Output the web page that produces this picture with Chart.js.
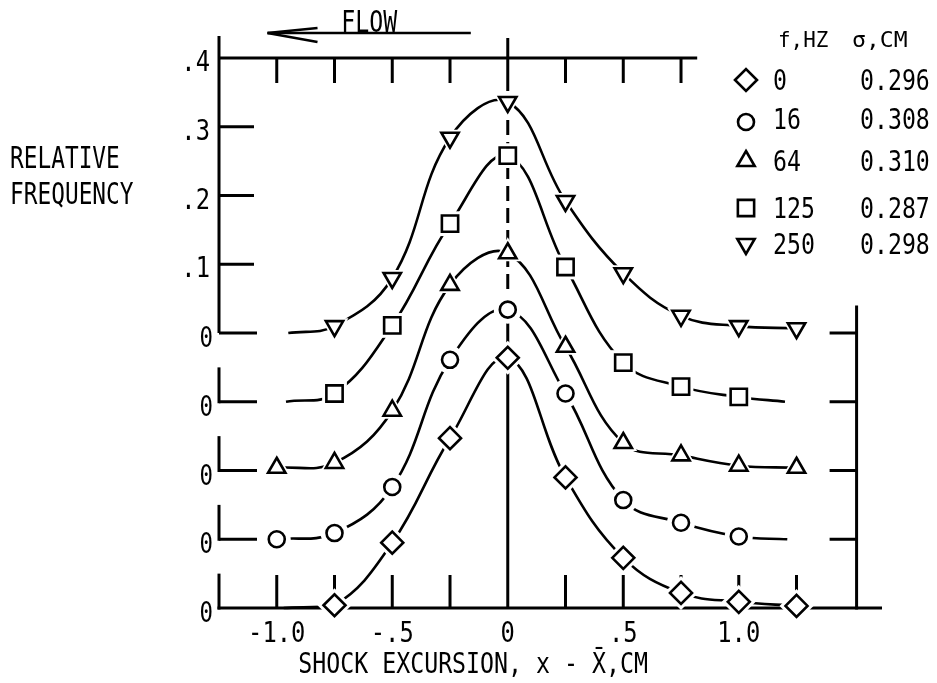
<!DOCTYPE html>
<html>
<head>
<meta charset="utf-8">
<script src="https://cdn.jsdelivr.net/npm/chart.js@4.4.0/dist/chart.umd.min.js"></script>
<style>
  body { margin: 0; background: #fff; }
  #wrap { position: relative; width: 937px; height: 683px; }
</style>
</head>
<body>
<div id="wrap"><canvas id="canvas"></canvas></div>
<script>
// bin centres of the shock position histogram, cm
var binX = [-1.0, -0.75, -0.5, -0.25, 0, 0.25, 0.5, 0.75, 1.0, 1.25];
var freqHz = ['0', '16', '64', '125', '250'];
var sigmaCm = ['0.296', '0.308', '0.310', '0.287', '0.298'];
// relative frequency per bin, one list per forcing frequency (null = no point)
var rf0   = [null, 0.004, 0.095, 0.247, 0.364, 0.190, 0.073, 0.022, 0.009, 0.003];
var rf16  = [0.000, 0.009, 0.076, 0.261, 0.334, 0.212, 0.057, 0.024, 0.004, null];
var rf64  = [0.004, 0.011, 0.087, 0.270, 0.316, 0.180, 0.040, 0.022, 0.007, 0.004];
var rf125 = [null, 0.012, 0.111, 0.259, 0.358, 0.196, 0.057, 0.022, 0.007, null];
var rf250 = [null, 0.010, 0.080, 0.284, 0.336, 0.192, 0.087, 0.025, 0.010, 0.007];
// each curve sits 0.1 above the one below it
var offsets = [0, 0.1, 0.2, 0.3, 0.4];
// where the faired curves run out along their baseline [left, right]
var tail0 = [-0.97, null];
var tail16 = [null, 1.21];
var tail64 = [null, null];
var tail125 = [-0.96, 1.2];
var tail250 = [-0.95, null];
// axis labels
var yTickVals = [0.1, 0.2, 0.3, 0.4];
var yTickLabels = ['.1', '.2', '.3', '.4'];
var xTickVals = [-1.0, -0.5, 0, 0.5, 1.0];
var xTickLabels = ['-1.0', '-.5', '0', '.5', '1.0'];

var series = [rf0, rf16, rf64, rf125, rf250];
var tails = [tail0, tail16, tail64, tail125, tail250];
var marks = [
  { style: 'rectRot', r: 11, rot: 0 },
  { style: 'circle', r: 8, rot: 0 },
  { style: 'triangle', r: 10, rot: 0 },
  { style: 'rect', r: 11.5, rot: 0 },
  { style: 'triangle', r: 10, rot: 180 }
];

function pts(vals, off) {
  var out = [];
  for (var i = 0; i < binX.length; i++) {
    if (vals[i] !== null) out.push({ x: binX[i], y: vals[i] + off });
  }
  return out;
}
function curve(vals, off, tail) {
  var out = pts(vals, off);
  if (tail[0] !== null) out.unshift({ x: tail[0], y: off });
  if (tail[1] !== null) out.push({ x: tail[1], y: off });
  return out;
}

var FONT = '"DejaVu Sans Mono", "Liberation Mono", monospace';
function txt(ctx, s, x, y, size, align, sx) {
  // y is the vertical centre of the capitals
  ctx.save();
  ctx.font = size + 'px ' + FONT;
  ctx.textAlign = align;
  ctx.textBaseline = 'alphabetic';
  ctx.translate(x, y + size * 0.364);
  ctx.scale(sx, 1);
  ctx.fillText(s, 0, 0);
  ctx.restore();
}

var datasets = [];
series.forEach(function (vals, k) {
  datasets.push({
    data: curve(vals, offsets[k], tails[k]),
    showLine: true, borderColor: '#000', borderWidth: 2.6,
    pointRadius: 0, tension: 0.4,
    order: 3, clip: false
  });
  datasets.push({
    data: pts(vals, offsets[k]),
    showLine: false, pointStyle: marks[k].style, pointRotation: marks[k].rot,
    pointRadius: marks[k].r + 6, pointBackgroundColor: '#fff',
    pointBorderColor: '#fff', pointBorderWidth: 0,
    order: 2, clip: false
  });
  datasets.push({
    data: pts(vals, offsets[k]),
    showLine: false, pointStyle: marks[k].style, pointRotation: marks[k].rot,
    pointRadius: marks[k].r, pointBackgroundColor: '#fff',
    pointBorderColor: '#000', pointBorderWidth: 2.6,
    order: 1, clip: false
  });
});

var paper = {
  id: 'paper',
  beforeDatasetsDraw: function (chart) {
    var ctx = chart.ctx, xs = chart.scales.x, ys = chart.scales.y;
    var X = function (v) { return xs.getPixelForValue(v); };
    var Y = function (v) { return ys.getPixelForValue(v); };
    function seg(x1, y1, x2, y2) { ctx.beginPath(); ctx.moveTo(x1, y1); ctx.lineTo(x2, y2); ctx.stroke(); }
    ctx.save();
    ctx.strokeStyle = '#000';
    ctx.fillStyle = '#000';
    ctx.lineWidth = 3;
    var L = X(-1.25), R = X(1.51), top = Y(0.8);

    // upper scale (.1 - .4) on the top curve
    seg(L, top, X(0.82), top);
    seg(L, Y(0.4), L, top - 22);
    binX.forEach(function (b) { if (b < 0.8 && b !== 0) seg(X(b), top, X(b), top + 25); });
    yTickVals.forEach(function (v, i) {
      if (v < 0.4) seg(L, Y(0.4 + v), L + 35, Y(0.4 + v));
      txt(ctx, yTickLabels[i], L - 9, Y(0.4 + v) + 3, 28, 'right', 0.85);
    });

    // a zero baseline for each curve
    offsets.forEach(function (off, k) {
      if (k > 0) {
        seg(L, Y(off), L + 38, Y(off));
        seg(R - 27, Y(off), R, Y(off));
      }
      if (k < 4) seg(L, Y(off) + 1.5, L, Y(off + 0.05));
      txt(ctx, '0', L - 6, Y(off) + 4, 28, 'right', 0.8);
    });
    seg(R, Y(0) + 1.5, R, Y(0.44));

    // bottom axis
    seg(L - 1.5, Y(0), X(1.62), Y(0));
    binX.forEach(function (b) { if (b !== 0) seg(X(b), Y(0), X(b), Y(0) - 33); });
    xTickVals.forEach(function (v, i) {
      txt(ctx, xTickLabels[i], X(v), Y(0) + 24, 28, 'center', 0.85);
    });

    // x = 0 reference
    seg(X(0), top - 20, X(0), top + 18);
    ctx.setLineDash([15, 7]);
    seg(X(0), top + 18, X(0), Y(0.4));
    ctx.setLineDash([]);
    seg(X(0), Y(0.4), X(0), Y(0));

    // FLOW arrow
    var tip = X(-1.04);
    ctx.lineWidth = 2.5;
    seg(tip, 33, X(-0.16), 33);
    seg(tip, 33, tip + 50, 28);
    seg(tip, 33, tip + 50, 42);
    txt(ctx, 'FLOW', X(-0.6), 21, 31, 'center', 0.75);

    // axis titles
    txt(ctx, 'RELATIVE', 10, 157, 30, 'left', 0.76);
    txt(ctx, 'FREQUENCY', 10, 193, 30, 'left', 0.76);
    txt(ctx, 'SHOCK EXCURSION, x - X\u0304,CM', X(-0.15), 663, 28, 'center', 0.83);
    ctx.restore();
  },
  afterDatasetsDraw: function (chart) {
    var ctx = chart.ctx;
    ctx.save();
    ctx.fillStyle = '#000';
    txt(ctx, 'f,HZ', 778, 39, 22, 'left', 0.95);
    txt(ctx, '\u03C3,CM', 852, 39, 22, 'left', 1.05);
    var rowY = [79, 118, 160, 207, 243];
    freqHz.forEach(function (f, k) {
      ctx.fillStyle = '#fff';
      ctx.strokeStyle = '#000';
      ctx.lineWidth = 2.6;
      Chart.helpers.drawPoint(ctx, { pointStyle: marks[k].style, radius: marks[k].r, rotation: marks[k].rot, borderWidth: 2.6 },
        746, rowY[k] + (k === 1 ? 4 : 1));
      ctx.fillStyle = '#000';
      txt(ctx, f, 773, rowY[k], 29, 'left', 0.8);
      txt(ctx, sigmaCm[k], 860, rowY[k], 29, 'left', 0.8);
    });
    ctx.restore();
  }
};

var ctx = document.getElementById('canvas').getContext('2d');
var chart = new Chart(ctx, {
  type: 'scatter',
  data: { datasets: datasets },
  options: {
    animation: false,
    responsive: true,
    maintainAspectRatio: false,
    events: [],
    layout: { padding: { left: 219, right: 55, top: 58, bottom: 75 } },
    plugins: { legend: { display: false }, tooltip: { enabled: false } },
    scales: {
      x: { type: 'linear', min: -1.25, max: 1.62, display: false },
      y: { type: 'linear', min: 0, max: 0.8, display: false }
    }
  },
  plugins: [paper]
});
</script>
</body>
</html>
